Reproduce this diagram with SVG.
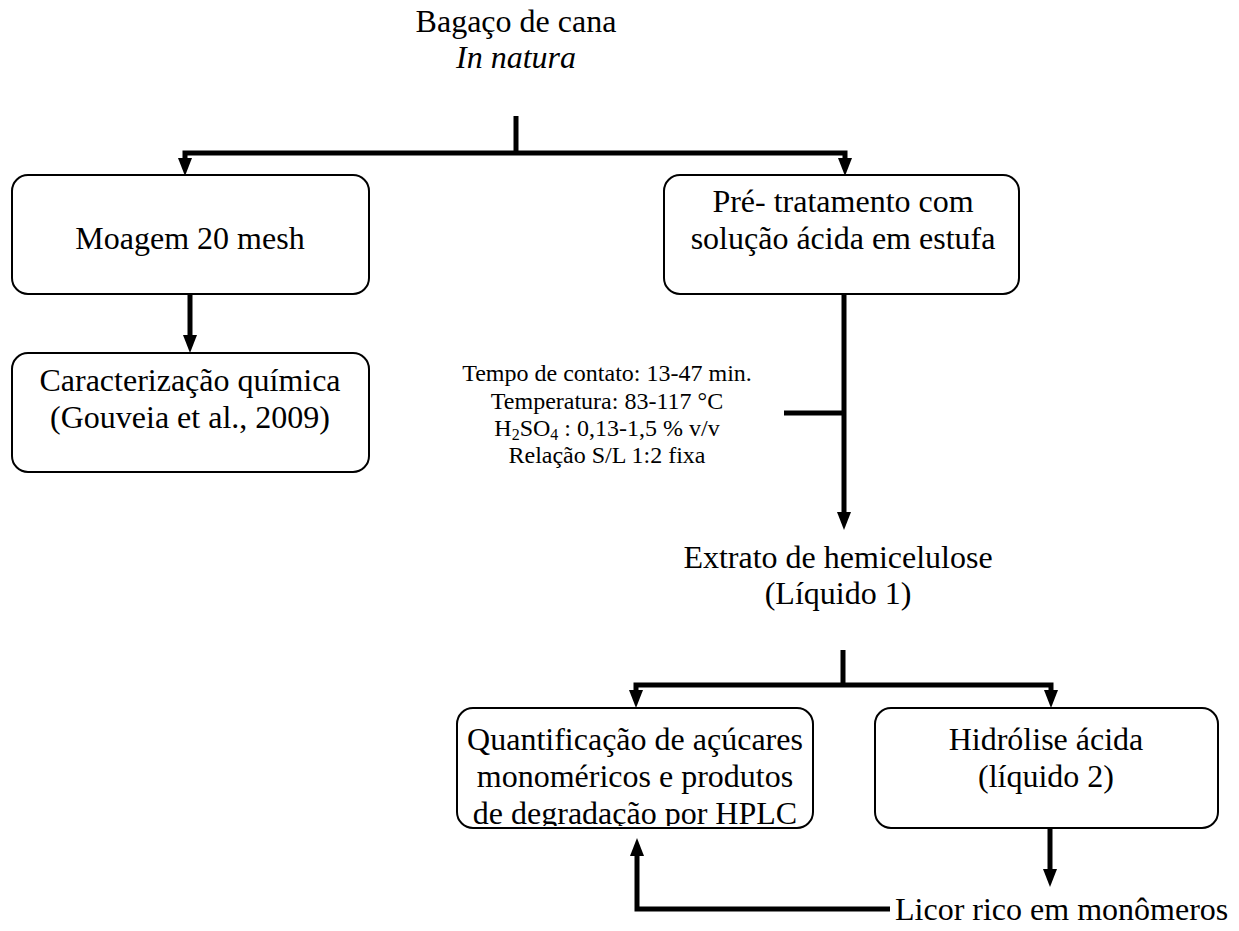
<svg xmlns="http://www.w3.org/2000/svg" width="1239" height="931" viewBox="0 0 1239 931">
<style>
text{font-family:"Liberation Serif","Times New Roman",serif;fill:#000}
.t{font-size:32px;text-anchor:middle}
.p{font-size:24px;text-anchor:middle}
.box{fill:#fff;stroke:#000;stroke-width:2}
.c{fill:none;stroke:#000;stroke-width:5;stroke-linejoin:miter}
.a{marker-end:url(#arr)}
</style>
<defs>
<marker id="arr" markerUnits="userSpaceOnUse" markerWidth="18" markerHeight="14" refX="0" refY="7" orient="auto" overflow="visible">
<path d="M0,0 L18,7 L0,14 z" fill="#000"/>
</marker>
<clipPath id="qclip"><rect x="457" y="708" width="356" height="118"/></clipPath>
</defs>
<g id="bagaco">
<text class="t" x="516" y="32">Bagaço de cana</text>
<text class="t" x="516" y="68" font-style="italic">In natura</text>
</g>
<g id="connectors">
<path class="c" d="M516,116 V153"/>
<path class="c a" d="M516,153 H185 V158"/>
<path class="c a" d="M516,153 H845 V158"/>
<path class="c a" d="M190,294 V335"/>
<path class="c a" d="M844,294 V512"/>
<path class="c" d="M784,413 H844"/>
<path class="c" d="M843,650 V685"/>
<path class="c a" d="M843,685 H636 V690"/>
<path class="c a" d="M843,685 H1051 V690"/>
<path class="c a" d="M1050,828 V869"/>
<path class="c a" d="M890,909 H637 V856"/>
</g>
<g id="moagem">
<rect class="box" x="12" y="175" width="357" height="119" rx="16"/>
<text class="t" x="190" y="249">Moagem 20 mesh</text>
</g>
<g id="caracterizacao">
<rect class="box" x="12" y="353" width="357" height="119" rx="16"/>
<text class="t" x="190" y="391">Caracterização química</text>
<text class="t" x="190" y="428">(Gouveia et al., 2009)</text>
</g>
<g id="pretratamento">
<rect class="box" x="664" y="175" width="355" height="119" rx="16"/>
<text class="t" x="843" y="212">Pré- tratamento com</text>
<text class="t" x="843" y="249">solução ácida em estufa</text>
</g>
<g id="condicoes">
<text class="p" x="607" y="381">Tempo de contato: 13-47 min.</text>
<text class="p" x="607" y="409">Temperatura: 83-117 °C</text>
<text class="p" x="607" y="436">H<tspan font-size="16" dy="4">2</tspan><tspan dy="-4">SO</tspan><tspan font-size="16" dy="4">4</tspan><tspan dy="-4"> : 0,13-1,5 % v/v</tspan></text>
<text class="p" x="607" y="463">Relação S/L 1:2 fixa</text>
</g>
<g id="extrato">
<text class="t" x="838" y="568">Extrato de hemicelulose</text>
<text class="t" x="838" y="604">(Líquido 1)</text>
</g>
<g id="quantificacao">
<rect class="box" x="457" y="708" width="356" height="120" rx="16"/>
<g clip-path="url(#qclip)">
<text class="t" x="635" y="750">Quantificação de açúcares</text>
<text class="t" x="635" y="787">monoméricos e produtos</text>
<text class="t" x="635" y="824">de degradação por HPLC</text>
</g>
</g>
<g id="hidrolise">
<rect class="box" x="875" y="708" width="343" height="120" rx="16"/>
<text class="t" x="1046" y="750">Hidrólise ácida</text>
<text class="t" x="1046" y="787">(líquido 2)</text>
</g>
<g id="licor">
<text x="895" y="920" font-size="32">Licor rico em monômeros</text>
</g>
</svg>
